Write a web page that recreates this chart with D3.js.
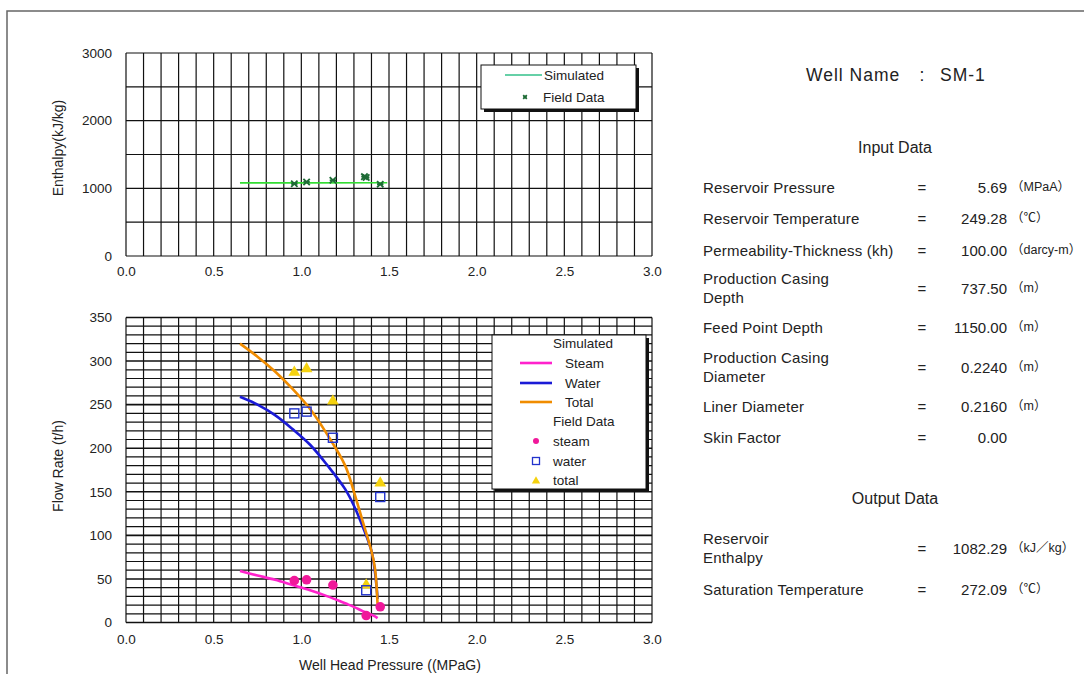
<!DOCTYPE html>
<html>
<head>
<meta charset="utf-8">
<script src="https://cdn.jsdelivr.net/npm/d3@7"></script>
<style>
  body { margin: 0; background: #fff; }
  text { font-family: "Liberation Sans", Arial, "Noto Sans CJK JP", sans-serif; fill: #222; }
</style>
</head>
<body>
<div id="chart"></div>
<script>
// axis ticks
var xTicks = [0, 0.5, 1.0, 1.5, 2.0, 2.5, 3.0];
var enthTicks = [0, 1000, 2000, 3000];
var flowTicks = [0, 50, 100, 150, 200, 250, 300, 350];

// simulated curves
var simPressure = [0.65, 0.75, 0.85, 0.95, 1.05, 1.15, 1.25, 1.30, 1.35, 1.40, 1.42, 1.435];
var simSteam = [59, 54, 49, 43, 37, 30, 22, 18, 13, 9, 7, 5];
var simWater = [259, 250, 238, 222, 204, 180, 153, 134, 110, 82, 58, 27];
var simTotal = [320, 305, 288, 268, 245, 215, 180, 150, 116, 82, 62, 20];

var enthSimPressure = [0.65, 1.0, 1.49];
var enthSim = [1080, 1081, 1083];

// field data
var fieldPressure = [0.96, 1.03, 1.18, 1.37, 1.45];
var fieldSteam = [48, 49, 43, 8, 18];
var fieldWater = [240, 242, 212, 37, 144];
var fieldTotal = [287, 291, 254, 43, 160];

var fieldEnthPressure = [0.96, 1.03, 1.18, 1.36, 1.37, 1.45];
var fieldEnth = [1068, 1094, 1119, 1172, 1160, 1060];

// text panel
var wellName = "SM-1";
var inputLabels = [["Reservoir Pressure"], ["Reservoir Temperature"], ["Permeability-Thickness (kh)"],
  ["Production Casing", "Depth"], ["Feed Point Depth"], ["Production Casing", "Diameter"],
  ["Liner Diameter"], ["Skin Factor"]];
var inputValues = ["5.69", "249.28", "100.00", "737.50", "1150.00", "0.2240", "0.2160", "0.00"];
var inputUnits = ["（MPaA）", "（℃）", "（darcy-m）", "（m）", "（m）", "（m）", "（m）", ""];
var outputLabels = [["Reservoir", "Enthalpy"], ["Saturation Temperature"]];
var outputValues = ["1082.29", "272.09"];
var outputUnits = ["（kJ／kg）", "（℃）"];

var W = 1084, H = 674;
var svg = d3.select("#chart").append("svg")
  .attr("width", W).attr("height", H);

// outer frame
svg.append("rect")
  .attr("x", 7).attr("y", 11).attr("width", 1200).attr("height", 800)
  .attr("fill", "none").attr("stroke", "#666").attr("stroke-width", 1.5);

var left = 126, right = 652;
var x = d3.scaleLinear().domain([0, 3]).range([left, right]);
var yTop = d3.scaleLinear().domain([0, 3000]).range([256, 53]);
var yBot = d3.scaleLinear().domain([0, 350]).range([622.5, 317.5]);

function drawGrid(y, yStep, yMajor) {
  var g = svg.append("g");
  var y0 = y.range()[0], y1 = y.range()[1];
  var ys = d3.range(y.domain()[0], y.domain()[1] + 0.001, yStep);
  g.selectAll(".h").data(ys).enter().append("line")
    .attr("x1", left).attr("x2", right)
    .attr("y1", function(d) { return y(d); }).attr("y2", function(d) { return y(d); })
    .attr("stroke", "#111")
    .attr("stroke-width", function(d) { return (yMajor && d % yMajor === 0) ? 1.6 : 1.2; });
  var xs = d3.range(0, 3.0001, 0.1);
  g.selectAll(".v").data(xs).enter().append("line")
    .attr("x1", function(d) { return x(d); }).attr("x2", function(d) { return x(d); })
    .attr("y1", y0).attr("y2", y1)
    .attr("stroke", "#111").attr("stroke-width", 1.2);
}

function drawAxes(y, yTicks, xLabelOffset) {
  var y0 = y.range()[0];
  var gx = svg.append("g").attr("transform", "translate(0," + y0 + ")")
    .call(d3.axisBottom(x).tickValues(xTicks).tickFormat(d3.format(".1f")).tickSize(0).tickPadding(xLabelOffset));
  gx.select(".domain").remove();
  var gy = svg.append("g").attr("transform", "translate(" + (left - 14) + ",0)")
    .call(d3.axisLeft(y).tickValues(yTicks).tickFormat(d3.format("d")).tickSize(0).tickPadding(0));
  gy.select(".domain").remove();
  svg.selectAll(".tick text").attr("font-size", 13.5).attr("fill", "#333")
    .attr("font-family", "Liberation Sans, Arial, sans-serif");
}

// ---- top chart: enthalpy
drawGrid(yTop, 500, 0);
drawAxes(yTop, enthTicks, 10);

svg.append("path")
  .datum(enthSimPressure.map(function(p, i) { return [p, enthSim[i]]; }))
  .attr("fill", "none").attr("stroke", "#33dd33").attr("stroke-width", 1.6)
  .attr("d", d3.line().x(function(d) { return x(d[0]); }).y(function(d) { return yTop(d[1]); }));

function xMark(g, cx, cy, s, color) {
  g.append("path")
    .attr("d", "M" + (cx - s) + "," + (cy - s) + "L" + (cx + s) + "," + (cy + s) +
      "M" + (cx - s) + "," + (cy + s) + "L" + (cx + s) + "," + (cy - s) +
      "M" + (cx - s) + "," + cy + "L" + (cx + s) + "," + cy)
    .attr("stroke", color).attr("stroke-width", 1.8).attr("fill", "none");
}
var gEnth = svg.append("g");
fieldEnthPressure.forEach(function(p, i) {
  xMark(gEnth, x(p), yTop(fieldEnth[i]), 3.2, "#1d6b35");
});

// top legend
function legendBox(x0, y0, w, h) {
  svg.append("rect").attr("x", x0 + 3).attr("y", y0 + 3).attr("width", w).attr("height", h).attr("fill", "#111");
  svg.append("rect").attr("x", x0).attr("y", y0).attr("width", w).attr("height", h)
    .attr("fill", "#fff").attr("stroke", "#111").attr("stroke-width", 1);
}
legendBox(481, 65, 155, 44);
svg.append("line").attr("x1", 505).attr("x2", 542).attr("y1", 75).attr("y2", 75)
  .attr("stroke", "#33c08a").attr("stroke-width", 1.4);
svg.append("text").attr("x", 544).attr("y", 75).attr("dominant-baseline", "central")
  .attr("font-size", 13.5).text("Simulated");
xMark(svg, 525, 97, 1.8, "#1d6b35");
svg.append("text").attr("x", 543).attr("y", 97).attr("dominant-baseline", "central")
  .attr("font-size", 13.5).text("Field Data");

svg.append("text")
  .attr("transform", "translate(58,148) rotate(-90)")
  .attr("text-anchor", "middle").attr("dominant-baseline", "central")
  .attr("font-size", 14).text("Enthalpy(kJ/kg)");

// ---- bottom chart: flow rate
drawGrid(yBot, 10, 50);
drawAxes(yBot, flowTicks, 12);

var flowLine = d3.line().curve(d3.curveCatmullRom.alpha(0.5))
  .x(function(d) { return x(d[0]); }).y(function(d) { return yBot(d[1]); });
var series = [
  { vals: simSteam, color: "#ff22cc" },
  { vals: simWater, color: "#1a1ad6" },
  { vals: simTotal, color: "#f08c00" }
];
series.forEach(function(s) {
  svg.append("path")
    .datum(simPressure.map(function(p, i) { return [p, s.vals[i]]; }))
    .attr("fill", "none").attr("stroke", s.color).attr("stroke-width", 2.6)
    .attr("d", flowLine);
});

var markSteam = "#f0189a", markWater = "#2233cc", markTotal = "#f5d20f";
var tri = d3.symbol().type(d3.symbolTriangle).size(60);
svg.append("g").selectAll("path").data(fieldPressure).enter().append("path")
  .attr("d", tri)
  .attr("transform", function(d, i) { return "translate(" + x(d) + "," + yBot(fieldTotal[i]) + ")"; })
  .attr("fill", markTotal);
svg.append("g").selectAll("rect").data(fieldPressure).enter().append("rect")
  .attr("x", function(d) { return x(d) - 4.5; })
  .attr("y", function(d, i) { return yBot(fieldWater[i]) - 4.5; })
  .attr("width", 9).attr("height", 9)
  .attr("fill", "none").attr("stroke", markWater).attr("stroke-width", 1.4);
svg.append("g").selectAll("circle").data(fieldPressure).enter().append("circle")
  .attr("cx", function(d) { return x(d); })
  .attr("cy", function(d, i) { return yBot(fieldSteam[i]); })
  .attr("r", 4.8).attr("fill", markSteam);

// bottom legend
legendBox(492, 335, 154, 154);
var legText = function(tx, ty, t) {
  svg.append("text").attr("x", tx).attr("y", ty).attr("dominant-baseline", "central")
    .attr("font-size", 13.5).text(t);
};
legText(553, 343, "Simulated");
[["Steam", 363], ["Water", 383], ["Total", 402]].forEach(function(e, i) {
  svg.append("line").attr("x1", 520).attr("x2", 552).attr("y1", e[1]).attr("y2", e[1])
    .attr("stroke", series[i].color).attr("stroke-width", 2.6);
  legText(565, e[1], e[0]);
});
legText(553, 421, "Field Data");
svg.append("circle").attr("cx", 536).attr("cy", 441).attr("r", 3).attr("fill", markSteam);
legText(553, 441, "steam");
svg.append("rect").attr("x", 532.5).attr("y", 457.5).attr("width", 7).attr("height", 7)
  .attr("fill", "none").attr("stroke", markWater).attr("stroke-width", 1.3);
legText(553, 461, "water");
svg.append("path").attr("d", d3.symbol().type(d3.symbolTriangle).size(30))
  .attr("transform", "translate(536,481)").attr("fill", markTotal);
legText(553, 480, "total");

svg.append("text")
  .attr("transform", "translate(58,466) rotate(-90)")
  .attr("text-anchor", "middle").attr("dominant-baseline", "central")
  .attr("font-size", 14).text("Flow Rate (t/h)");
svg.append("text").attr("x", 390).attr("y", 665)
  .attr("text-anchor", "middle").attr("dominant-baseline", "central")
  .attr("font-size", 14).text("Well Head Pressure ((MPaG)");

// ---- right text panel
var panel = svg.append("g");
panel.append("text").attr("x", 806).attr("y", 75).attr("dominant-baseline", "central")
  .attr("font-size", 17.5).attr("letter-spacing", 1).text("Well Name");
panel.append("text").attr("x", 922).attr("y", 75).attr("text-anchor", "middle").attr("dominant-baseline", "central")
  .attr("font-size", 17.5).text(":");
panel.append("text").attr("x", 940).attr("y", 75).attr("dominant-baseline", "central")
  .attr("font-size", 17.5).attr("letter-spacing", 1).text(wellName);
panel.append("text").attr("x", 895).attr("y", 147).attr("text-anchor", "middle").attr("dominant-baseline", "central")
  .attr("font-size", 16).text("Input Data");
panel.append("text").attr("x", 895).attr("y", 498).attr("text-anchor", "middle").attr("dominant-baseline", "central")
  .attr("font-size", 16).text("Output Data");

function panelRows(labels, values, units, rowY) {
  labels.forEach(function(lines, i) {
    var cy = rowY[i];
    lines.forEach(function(l, j) {
      var ly = lines.length === 1 ? cy : cy + (j === 0 ? -9.5 : 9.5);
      panel.append("text").attr("x", 703).attr("y", ly).attr("dominant-baseline", "central")
        .attr("font-size", 15).attr("letter-spacing", 0.2).text(l);
    });
    panel.append("text").attr("x", 922).attr("y", cy).attr("text-anchor", "middle").attr("dominant-baseline", "central")
      .attr("font-size", 15).text("=");
    panel.append("text").attr("x", 1007).attr("y", cy).attr("text-anchor", "end").attr("dominant-baseline", "central")
      .attr("font-size", 15).text(values[i]);
    panel.append("text").attr("x", 1011).attr("y", cy).attr("dominant-baseline", "central")
      .attr("font-size", 12.5).text(units[i]);
  });
}
panelRows(inputLabels, inputValues, inputUnits, [187, 218, 250, 288, 327, 367, 406, 437]);
panelRows(outputLabels, outputValues, outputUnits, [548, 589]);
</script>
</body>
</html>
